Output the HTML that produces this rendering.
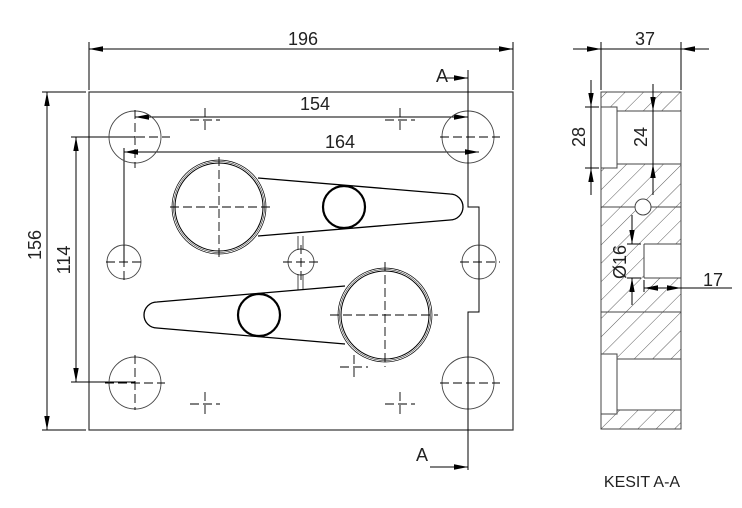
<!DOCTYPE html>
<html><head><meta charset="utf-8"><style>body{margin:0;background:#fff}svg{display:block}text{font-family:"Liberation Sans",sans-serif;fill:#222}</style></head><body>
<svg width="742" height="508" viewBox="0 0 742 508" xmlns="http://www.w3.org/2000/svg">
<defs>
<marker id="a" viewBox="0 0 14 6" refX="14" refY="3" markerWidth="14" markerHeight="6" markerUnits="userSpaceOnUse" orient="auto-start-reverse"><path d="M0,0.3 L14,3 L0,5.7z" fill="#000"/></marker>
<pattern id="h" patternUnits="userSpaceOnUse" width="13" height="13" patternTransform="rotate(45)"><line x1="0" y1="0" x2="0" y2="13" stroke="#333" stroke-width="0.8"/></pattern>
</defs>
<g fill="none" stroke="#000" stroke-width="1">
<rect x="89" y="92" width="424" height="338" stroke="#333" stroke-width="1.2"/>
<line x1="89" y1="42" x2="89" y2="90"/><line x1="513" y1="42" x2="513" y2="90"/>
<line x1="89" y1="49" x2="513" y2="49" marker-start="url(#a)" marker-end="url(#a)"/>
<line x1="42" y1="92" x2="86" y2="92"/><line x1="42" y1="430" x2="86" y2="430"/>
<line x1="47" y1="92" x2="47" y2="430" marker-start="url(#a)" marker-end="url(#a)"/>
<line x1="71" y1="137" x2="135" y2="137"/><line x1="71" y1="382" x2="135" y2="382"/>
<line x1="76" y1="137" x2="76" y2="382" marker-start="url(#a)" marker-end="url(#a)"/>
<line x1="135" y1="117" x2="468" y2="117" marker-start="url(#a)" marker-end="url(#a)"/>
<line x1="124" y1="152" x2="479" y2="152" marker-start="url(#a)" marker-end="url(#a)"/>
<line x1="124" y1="148" x2="124" y2="262"/>
<path d="M468,70 V207 H479 V312 H468 V470"/>
<line x1="440" y1="78" x2="468" y2="78" marker-end="url(#a)"/>
<line x1="430" y1="467" x2="468" y2="467" marker-end="url(#a)"/>
<g stroke="#444" stroke-width="0.9">
<circle cx="135" cy="137" r="26"/><circle cx="468" cy="137" r="26"/>
<circle cx="135" cy="383" r="26"/><circle cx="468" cy="383" r="26"/>
<circle cx="124" cy="262" r="17"/><circle cx="479" cy="262" r="17"/>
<circle cx="301" cy="262" r="13"/>
</g>
<g stroke-dasharray="9,4" stroke-width="0.9">
<path d="M135,110 V168 M110,137 H170 M468,110 V168 M440,137 H500 M135,355 V410 M105,383 H165 M468,355 V410 M440,383 H500 M106,262 H145 M124,245 V280 M460,262 H500 M479,245 V280 M283,262 H320 M301,245 V280"/>
<path d="M190,120 H220 M205,108 V134 M385,120 H415 M400,108 V134 M190,404 H220 M205,392 V418 M385,404 H415 M400,392 V418 M340,367 H368 M354,355 V380"/>
<path d="M170,207 H272 M219,157 V258 M330,315 H438 M385,262 V367"/>
</g>
<circle cx="219" cy="207" r="44"/><circle cx="219" cy="207" r="47" stroke-width="0.7"/><circle cx="219" cy="207" r="45.5" stroke-width="0.5"/>
<path d="M258,178 L450,194 A13,13 0 0 1 450,220 L258,236" stroke-width="1.3"/>
<circle cx="344" cy="207" r="21" stroke-width="2.2" fill="#fff"/>
<circle cx="385" cy="315" r="44"/><circle cx="385" cy="315" r="47" stroke-width="0.7"/><circle cx="385" cy="315" r="45.5" stroke-width="0.5"/>
<path d="M345,286 L157,302 A13,13 0 0 0 157,328 L345,344" stroke-width="1.3"/>
<circle cx="259" cy="315" r="21" stroke-width="2.2" fill="#fff"/>
<path d="M298,236 V250 M303,236 V250 M298,274 V290 M303,274 V290" stroke-width="0.7"/>
<rect x="601" y="92" width="80" height="337" fill="url(#h)" stroke="none"/>
<rect x="601" y="111" width="80" height="53" fill="#fff" stroke="none"/>
<rect x="601" y="359" width="80" height="51" fill="#fff" stroke="none"/>
<rect x="644" y="244" width="37" height="34" fill="#fff" stroke="none"/>
<g stroke="#444">
<rect x="601" y="92" width="80" height="337"/>
<path d="M601,111 H681 M601,164 H681 M601,207 H681 M601,312 H681 M601,359 H681 M601,410 H681 M644,244 H681 M644,278 H681 M644,244 V278"/>
<rect x="601" y="107" width="16" height="61" fill="#fff"/>
<rect x="601" y="354" width="16" height="60" fill="#fff"/>
<circle cx="643" cy="207" r="8" fill="#fff"/>
</g>
<line x1="601" y1="42" x2="601" y2="90"/><line x1="681" y1="42" x2="681" y2="90"/>
<line x1="573" y1="49" x2="601" y2="49" marker-end="url(#a)"/><line x1="709" y1="49" x2="681" y2="49" marker-end="url(#a)"/><line x1="601" y1="49" x2="681" y2="49"/>
<line x1="585" y1="107" x2="599" y2="107"/><line x1="585" y1="168" x2="599" y2="168"/>
<line x1="591" y1="80" x2="591" y2="107" marker-end="url(#a)"/><line x1="591" y1="195" x2="591" y2="168" marker-end="url(#a)"/><line x1="591" y1="107" x2="591" y2="168"/>
<line x1="653" y1="84" x2="653" y2="111" marker-end="url(#a)"/><line x1="653" y1="195" x2="653" y2="164" marker-end="url(#a)"/><line x1="653" y1="111" x2="653" y2="164"/>
<line x1="627" y1="244" x2="641" y2="244"/><line x1="627" y1="278" x2="641" y2="278"/>
<line x1="632" y1="215" x2="632" y2="244" marker-end="url(#a)"/><line x1="632" y1="305" x2="632" y2="278" marker-end="url(#a)"/>
<line x1="644" y1="280" x2="644" y2="292"/>
<line x1="732" y1="288" x2="644" y2="288"/>
<line x1="664" y1="288" x2="644" y2="288" marker-end="url(#a)"/><line x1="664" y1="288" x2="681" y2="288" marker-end="url(#a)"/>
</g>
<g font-size="18">
<text x="303" y="45" text-anchor="middle">196</text>
<text x="315" y="110" text-anchor="middle">154</text>
<text x="340" y="148" text-anchor="middle">164</text>
<text x="645" y="45" text-anchor="middle">37</text>
<text x="713" y="286" text-anchor="middle">17</text>
<text x="442" y="82" text-anchor="middle">A</text>
<text x="422" y="461" text-anchor="middle">A</text>
<text transform="translate(41,245) rotate(-90)" text-anchor="middle">156</text>
<text transform="translate(70,260) rotate(-90)" text-anchor="middle">114</text>
<text transform="translate(585,137) rotate(-90)" text-anchor="middle">28</text>
<text transform="translate(647,137) rotate(-90)" text-anchor="middle">24</text>
<text transform="translate(626,262) rotate(-90)" text-anchor="middle">Ø16</text>
<text x="642" y="487" text-anchor="middle" font-size="16">KESIT A-A</text>
</g>
</svg>
</body></html>
